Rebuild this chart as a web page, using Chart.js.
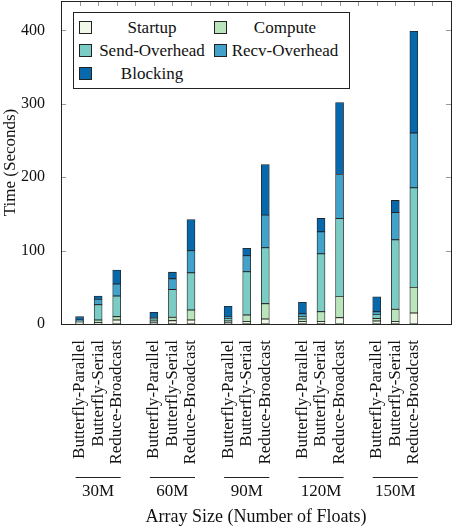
<!DOCTYPE html>
<html>
<head>
<meta charset="utf-8">
<script src="https://cdn.jsdelivr.net/npm/chart.js@4"></script>
<style>
  body { margin: 0; background: #fff; }
  #wrap { position: relative; width: 454px; height: 526px; }
  #legend {
    position: absolute; left: 73px; top: 12px;
    border: 1px solid #222; background: #fff;
    padding: 3px 6px 3px 5px;
    display: grid;
    grid-template-columns: 13px 116px 13px 116px;
    grid-auto-rows: 23px;
    column-gap: 2px;
    align-items: center;
    font-family: "Liberation Serif", serif; font-size: 17px; color: #111;
  }
  #legend .box { width: 11px; height: 11px; border: 1px solid #222; }
  #legend .txt { text-align: center; white-space: nowrap; }
  #legend .box.c2 { margin-left: 2px; }
</style>
</head>
<body>
<div id="wrap">
  <canvas id="myChart"></canvas>
  <div id="legend"></div>
</div>
<script>
const groups = ["30M", "60M", "90M", "120M", "150M"];
const methods = ["Butterfly-Parallel", "Butterfly-Serial", "Reduce-Broadcast"];
const seriesNames = ["Startup", "Compute", "Send-Overhead", "Recv-Overhead", "Blocking"];
const seriesColors = ["#f0f9e8", "#bae4bc", "#7bccc4", "#43a2ca", "#0868ac"];
const yTicks = [0, 100, 200, 300, 400];

// values go group by group: BP, BS, RB
const startup = [1, 1.8, 5.4, 2, 4.5, 5.4, 2, 3.2, 6.8, 3.2, 3.2, 8.6, 4, 3.2, 15];
const compute = [1, 3.6, 4.6, 2, 4.6, 13.6, 2, 9, 20.9, 3.6, 13.6, 29, 3.6, 16.8, 34.9];
const sendOverhead = [2, 20.9, 28.1, 3, 38, 50.8, 3.7, 59, 76.2, 3.6, 78.9, 106.2, 5.5, 94.7, 135.6];
const recvOverhead = [1.5, 7.3, 16.3, 2, 14.5, 30, 2.7, 21.8, 44.4, 3.6, 29.9, 59.8, 3.6, 37.3, 74.8];
const blocking = [4.5, 4.4, 19.1, 7, 9, 42.6, 13.6, 10, 68.9, 15.5, 18.2, 98, 20.4, 16.3, 138.3];

const seriesValues = [startup, compute, sendOverhead, recvOverhead, blocking];

// slots: empty slot before each group, plus two at the end
const labels = [""];
groups.forEach(() => labels.push(...methods, ""));
labels.push("");

const toSlots = (vals) => {
  const out = [null];
  groups.forEach((g, gi) => {
    out.push(vals[gi * 3], vals[gi * 3 + 1], vals[gi * 3 + 2], null);
  });
  out.push(null);
  return out;
};

const serif = "'Liberation Serif', serif";

const framePlugin = {
  id: "frame",
  afterDatasetsDraw(chart) {
    const { ctx, chartArea: a, scales } = chart;
    const x = scales.x, y = scales.y;
    ctx.save();
    // inward ticks
    ctx.strokeStyle = "#999";
    ctx.lineWidth = 1;
    ctx.beginPath();
    yTicks.forEach((v) => {
      const py = Math.round(y.getPixelForValue(v)) + 0.5;
      ctx.moveTo(a.left, py); ctx.lineTo(a.left + 5, py);
      ctx.moveTo(a.right, py); ctx.lineTo(a.right - 5, py);
    });
    for (let i = 1; i < labels.length - 1; i++) {
      const px = Math.round(x.getPixelForValue(i)) + 0.5;
      ctx.moveTo(px, a.top); ctx.lineTo(px, a.top + 5);
    }
    ctx.stroke();
    // frame
    ctx.strokeStyle = "#222";
    ctx.strokeRect(Math.round(a.left) + 0.5, Math.round(a.top) + 0.5,
      Math.round(a.right - a.left), Math.round(a.bottom - a.top));
    // group brackets and names
    ctx.fillStyle = "#111";
    ctx.font = "17px " + serif;
    ctx.textAlign = "center";
    ctx.textBaseline = "middle";
    groups.forEach((g, gi) => {
      const first = x.getPixelForValue(1 + gi * 4);
      const mid = x.getPixelForValue(2 + gi * 4);
      const last = x.getPixelForValue(3 + gi * 4);
      ctx.beginPath();
      ctx.moveTo(first - 4, 477.5); ctx.lineTo(last + 4, 477.5);
      ctx.stroke();
      ctx.fillText(g, mid, 492);
    });
    ctx.restore();
  },
};

const ctx = document.getElementById("myChart").getContext("2d");
new Chart(ctx, {
  type: "bar",
  data: {
    labels: labels,
    datasets: seriesNames.map((name, i) => ({
      label: name,
      data: toSlots(seriesValues[i]),
      backgroundColor: seriesColors[i],
      borderColor: "#222",
      borderWidth: 0.8,
      borderSkipped: false,
      barThickness: 8,
    })),
  },
  options: {
    responsive: true,
    maintainAspectRatio: false,
    animation: false,
    layout: { padding: { top: 1, right: 3, left: 0, bottom: 0 } },
    plugins: { legend: { display: false }, tooltip: { enabled: false } },
    scales: {
      x: {
        stacked: true,
        offset: false,
        grid: { display: false },
        border: { display: false },
        ticks: {
          autoSkip: false,
          minRotation: 90,
          maxRotation: 90,
          padding: 8,
          color: "#111",
          font: { family: serif, size: 17 },
        },
        title: {
          display: true,
          text: "Array Size (Number of Floats)",
          color: "#111",
          font: { family: serif, size: 18, lineHeight: 1 },
          padding: { top: 0, bottom: 0 },
        },
        afterFit(scale) {
          scale.height = 202;
          scale.paddingLeft = 0;
          scale.paddingRight = 0;
        },
      },
      y: {
        stacked: true,
        min: 0,
        max: 440,
        grid: { display: false },
        border: { display: false },
        ticks: {
          stepSize: 100,
          padding: 8,
          color: "#111",
          font: { family: serif, size: 16 },
          callback: (v) => (yTicks.includes(v) ? v : ""),
        },
        title: {
          display: true,
          text: "Time (Seconds)",
          color: "#111",
          font: { family: serif, size: 17 },
          padding: { top: 0, bottom: 0 },
        },
        afterFit(scale) {
          scale.width = 61;
          scale.paddingTop = 0;
          scale.paddingBottom = 0;
        },
      },
    },
  },
  plugins: [framePlugin],
});

// legend, two columns like the original
const legend = document.getElementById("legend");
seriesNames.forEach((name, i) => {
  const box = document.createElement("div");
  box.className = "box" + (i % 2 ? " c2" : "");
  box.style.background = seriesColors[i];
  const txt = document.createElement("div");
  txt.className = "txt";
  txt.textContent = name;
  legend.appendChild(box);
  legend.appendChild(txt);
});
</script>
</body>
</html>
